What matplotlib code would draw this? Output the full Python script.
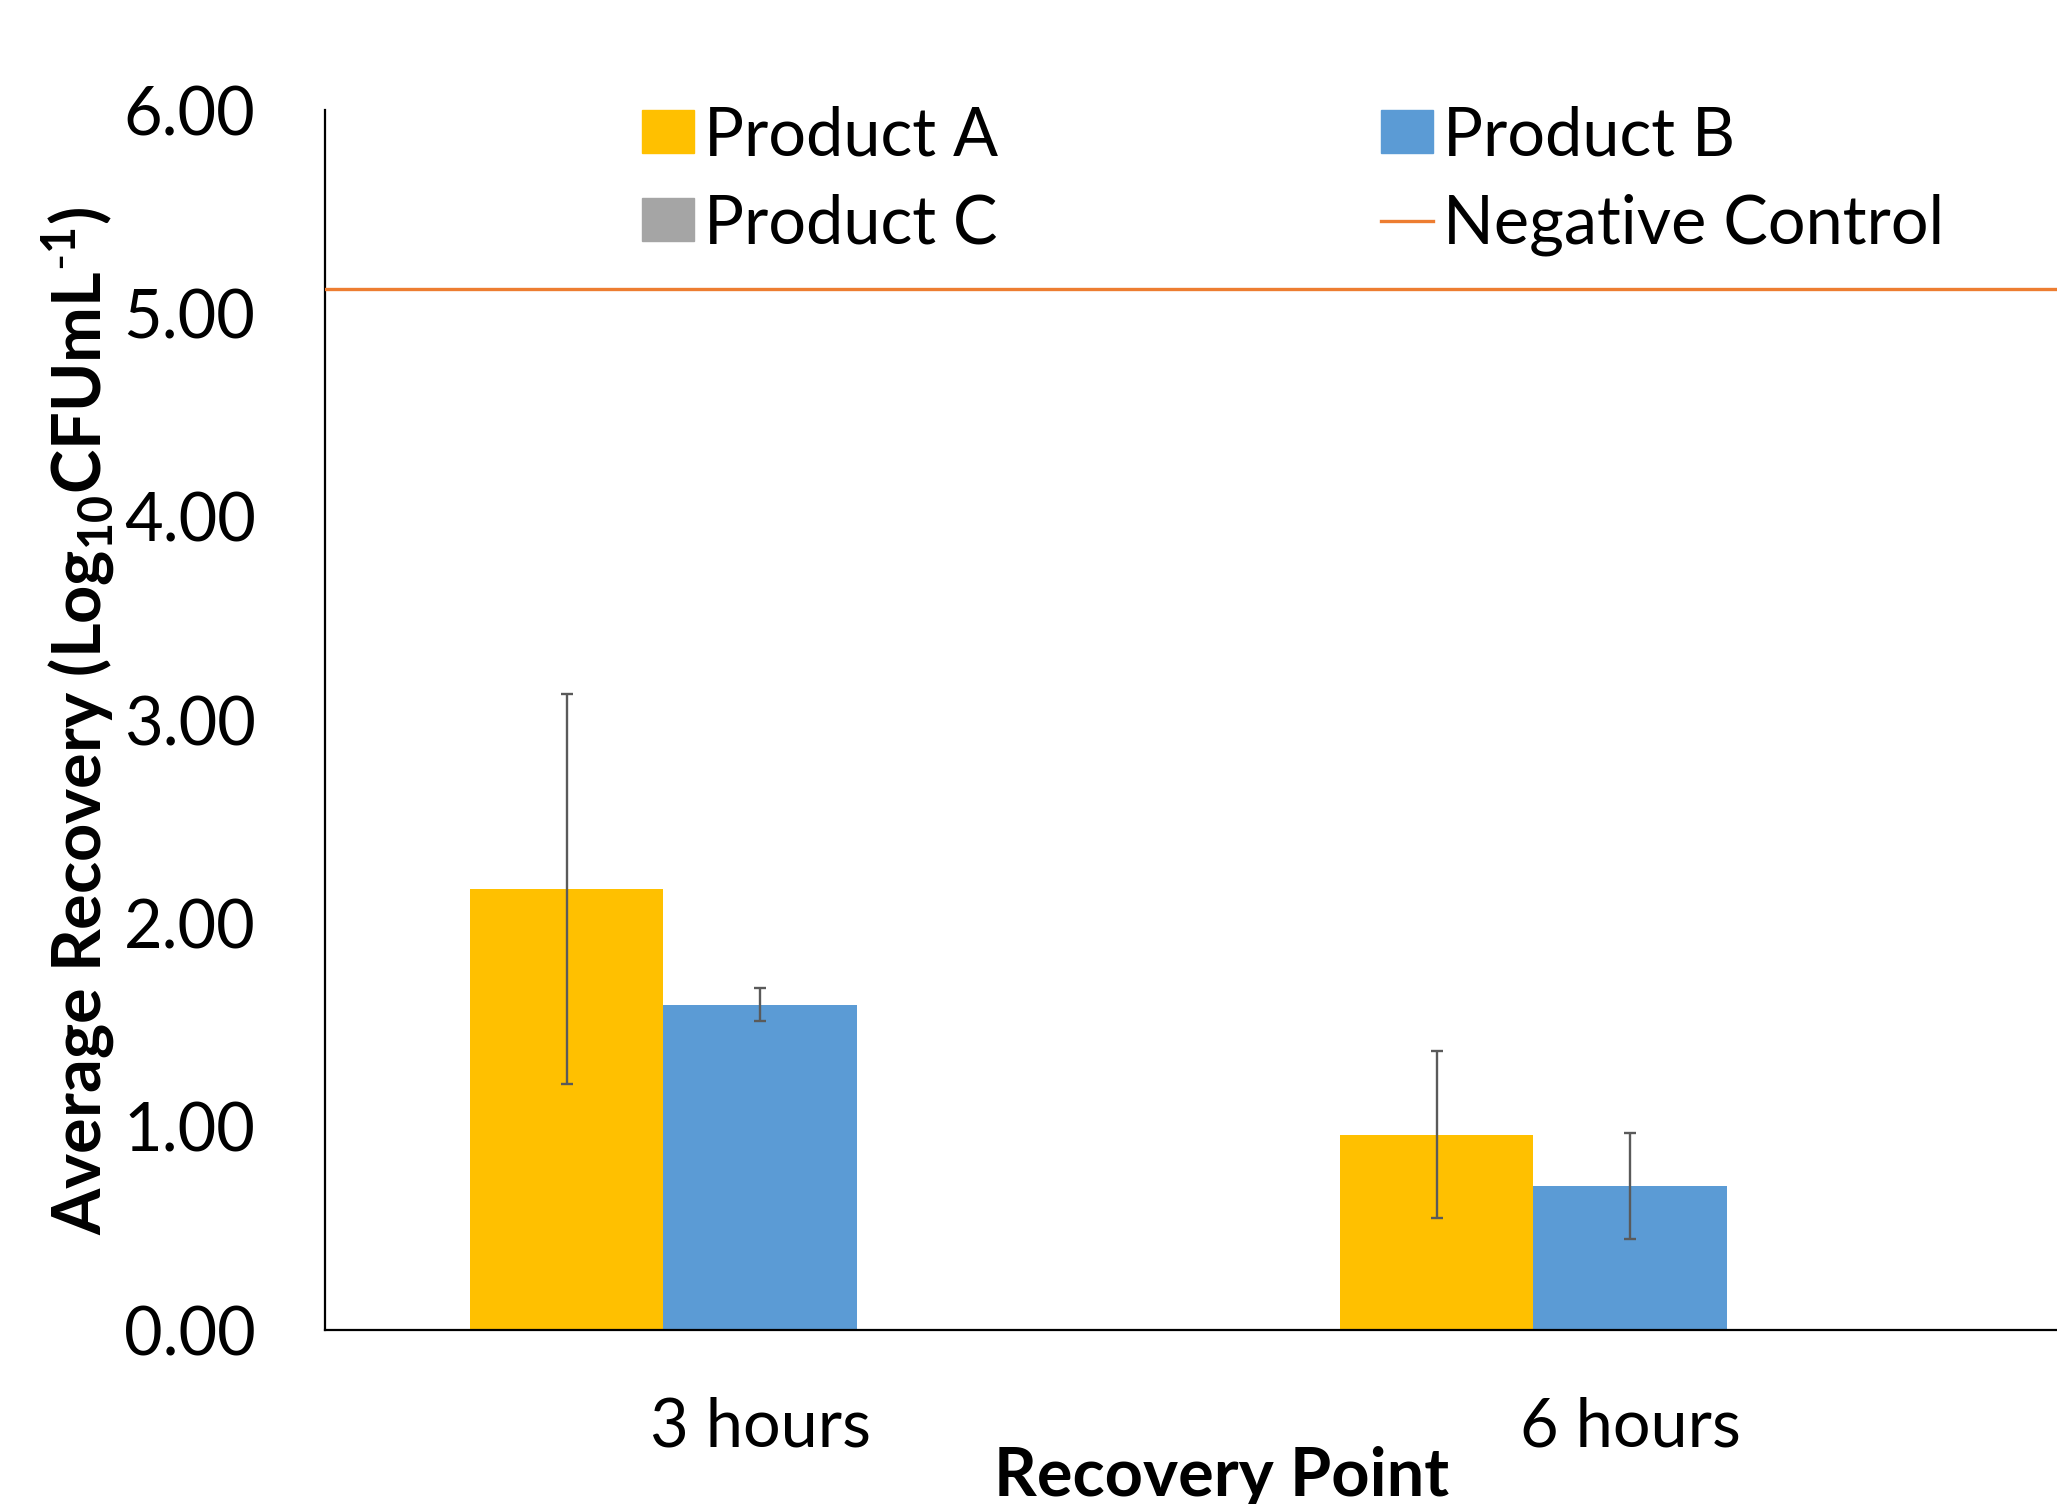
import matplotlib
matplotlib.use("Agg")
import matplotlib.pyplot as plt
import numpy as np
from matplotlib.patches import Patch
from matplotlib.lines import Line2D

plt.rcParams['font.family'] = ['Lato', 'DejaVu Sans']
plt.rcParams['mathtext.fontset'] = 'custom'
plt.rcParams['mathtext.rm'] = 'Lato'
plt.rcParams['mathtext.bf'] = 'Lato:bold'

categories = ["3 hours", "6 hours"]
series_names = ["Product A", "Product B", "Product C"]
product_a = [2.17, 0.96]
product_a_err = [0.96, 0.41]
product_b = [1.60, 0.71]
product_b_err = [0.08, 0.26]
product_c = [0.0, 0.0]
product_c_err = [0.0, 0.0]
negative_control = 5.12
yticks = [0, 1, 2, 3, 4, 5, 6]

colors = ["#FFC000", "#5B9BD5", "#A5A5A5"]
nc_color = "#ED7D31"

FS = 48
fig = plt.figure(figsize=(20.57, 15.04), dpi=100)
ax = fig.add_axes([325/2057, 1-1330/1504, 1740/2057, (1330-110)/1504])

x = np.arange(len(categories))
w = 1/1.5/3
vals = [product_a, product_b, product_c]
errs = [product_a_err, product_b_err, product_c_err]
for i, (v, e, c) in enumerate(zip(vals, errs, colors)):
    pos = x + (i-1)*w
    ax.bar(pos, v, width=w, color=c, zorder=2)
    if any(val > 0 for val in v):
        ax.errorbar(pos, v, yerr=e, fmt='none', ecolor='#5A5A5A', elinewidth=1.7,
                    capsize=4.5, capthick=1.7, zorder=3)

ax.axhline(negative_control, color=nc_color, lw=2.4, zorder=4)

ax.set_xlim(-0.5, 1.5)
ax.set_ylim(0, 6)
ax.set_yticks(yticks)
ax.set_yticklabels([f"{t:.2f}" for t in yticks])
ax.set_xticks(x)
ax.set_xticklabels(categories)
ax.tick_params(axis='both', length=0, labelsize=FS)
ax.tick_params(axis='y', pad=50)
ax.tick_params(axis='x', pad=48)
for s in ['top', 'right']:
    ax.spines[s].set_visible(False)
for s in ['left', 'bottom']:
    ax.spines[s].set_linewidth(1.6)
    ax.spines[s].set_color('black')

fig.text(79/2057, 1-721/1504, r'Average Recovery (Log$_{\mathbf{10}}$CFUmL$^{\mathbf{\text{-}1}}$)',
         rotation=90, ha='center', va='center', fontsize=FS, fontweight='bold')
fig.text(1222/2057, 1-1496/1504, 'Recovery Point', ha='center', va='baseline',
         fontsize=FS, fontweight='bold')

handles = [Patch(color=colors[0], label=series_names[0]),
           Patch(color=colors[1], label=series_names[1]),
           Patch(color=colors[2], label=series_names[2]),
           Line2D([0], [0], color=nc_color, lw=2.4, label="Negative Control")]
order = [0, 2, 1, 3]
leg = fig.legend([handles[i] for i in order], [handles[i].get_label() for i in order],
                 ncol=2, loc='upper left', bbox_to_anchor=(642/2057, 1-105/1504),
                 frameon=False, fontsize=FS, handlelength=0.78, handleheight=0.6,
                 handletextpad=0.15, columnspacing=5.74, labelspacing=0.39,
                 borderpad=0, borderaxespad=0)

fig.savefig("out.png", dpi=100)
